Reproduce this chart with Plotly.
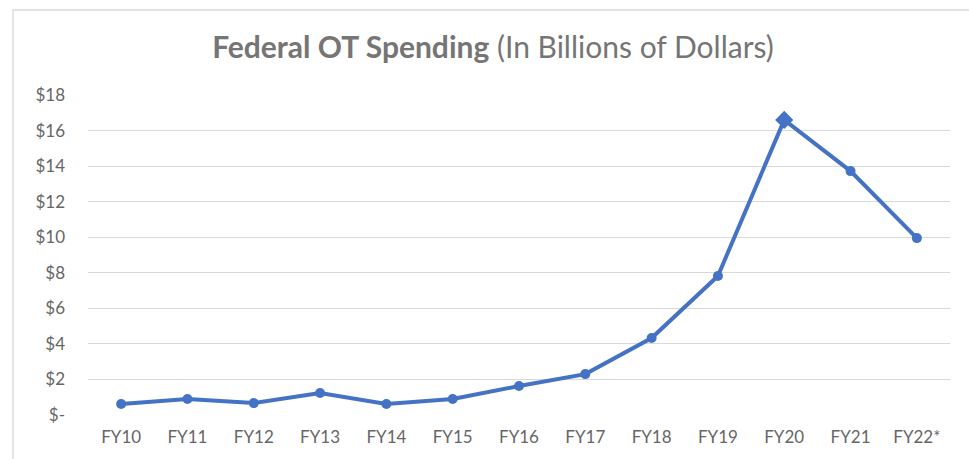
import plotly.graph_objects as go

categories = ["FY10", "FY11", "FY12", "FY13", "FY14", "FY15", "FY16",
              "FY17", "FY18", "FY19", "FY20", "FY21", "FY22*"]
values = [0.62, 0.9, 0.67, 1.24, 0.62, 0.9, 1.63, 2.3, 4.33, 7.82, 16.6, 13.72, 9.95]
symbols = ["circle"] * 10 + ["diamond"] + ["circle"] * 2
sizes = [10] * 10 + [14] + [10] * 2
tick_vals = [0, 2, 4, 6, 8, 10, 12, 14, 16, 18]
tick_text = ["$-", "$2", "$4", "$6", "$8", "$10", "$12", "$14", "$16", "$18"]

W, H = 969, 459
ml, mr, mt, mb = 88, 19, 95, 44
pw, ph = W - ml - mr, H - mt - mb

fig = go.Figure()
fig.add_trace(go.Scatter(
    x=list(range(len(categories))), y=values, mode="lines+markers",
    line=dict(color="#4472C4", width=4),
    marker=dict(color="#4472C4", symbol=symbols, size=sizes, opacity=1,
                line=dict(width=0)),
    showlegend=False, hoverinfo="skip"))

fig.update_layout(
    width=W, height=H,
    margin=dict(l=ml, r=mr, t=mt, b=mb),
    paper_bgcolor="white", plot_bgcolor="white",
    font=dict(family="Lato", color="#666666", size=17),
    title=dict(
        text="<b>Federal OT Spending</b> (In Billions of Dollars)",
        x=493 / W, xanchor="center", y=1 - 47 / H, yanchor="middle",
        font=dict(family="Lato", size=30, color="#757575")),
    xaxis=dict(
        range=[-0.5, len(categories) - 0.5],
        tickvals=list(range(len(categories))), ticktext=categories,
        showgrid=False, zeroline=False, showline=False, ticks="",
        ticklabelstandoff=10, fixedrange=True),
    yaxis=dict(
        range=[0, 18], tickvals=tick_vals, ticktext=tick_text,
        showgrid=True, gridcolor="#D9D9D9", gridwidth=1.3,
        zeroline=False, showline=False, ticks="",
        ticklabelstandoff=22, fixedrange=True),
    shapes=[dict(
        type="rect", xref="paper", yref="paper",
        x0=(13 - ml) / pw, x1=(W + 10 - ml) / pw,
        y0=-(mb + 10) / ph, y1=(H - mb - 10) / ph,
        line=dict(color="#D9D9D9", width=1.3), fillcolor="rgba(0,0,0,0)",
        layer="below")],
)

fig.write_html("out.html")
